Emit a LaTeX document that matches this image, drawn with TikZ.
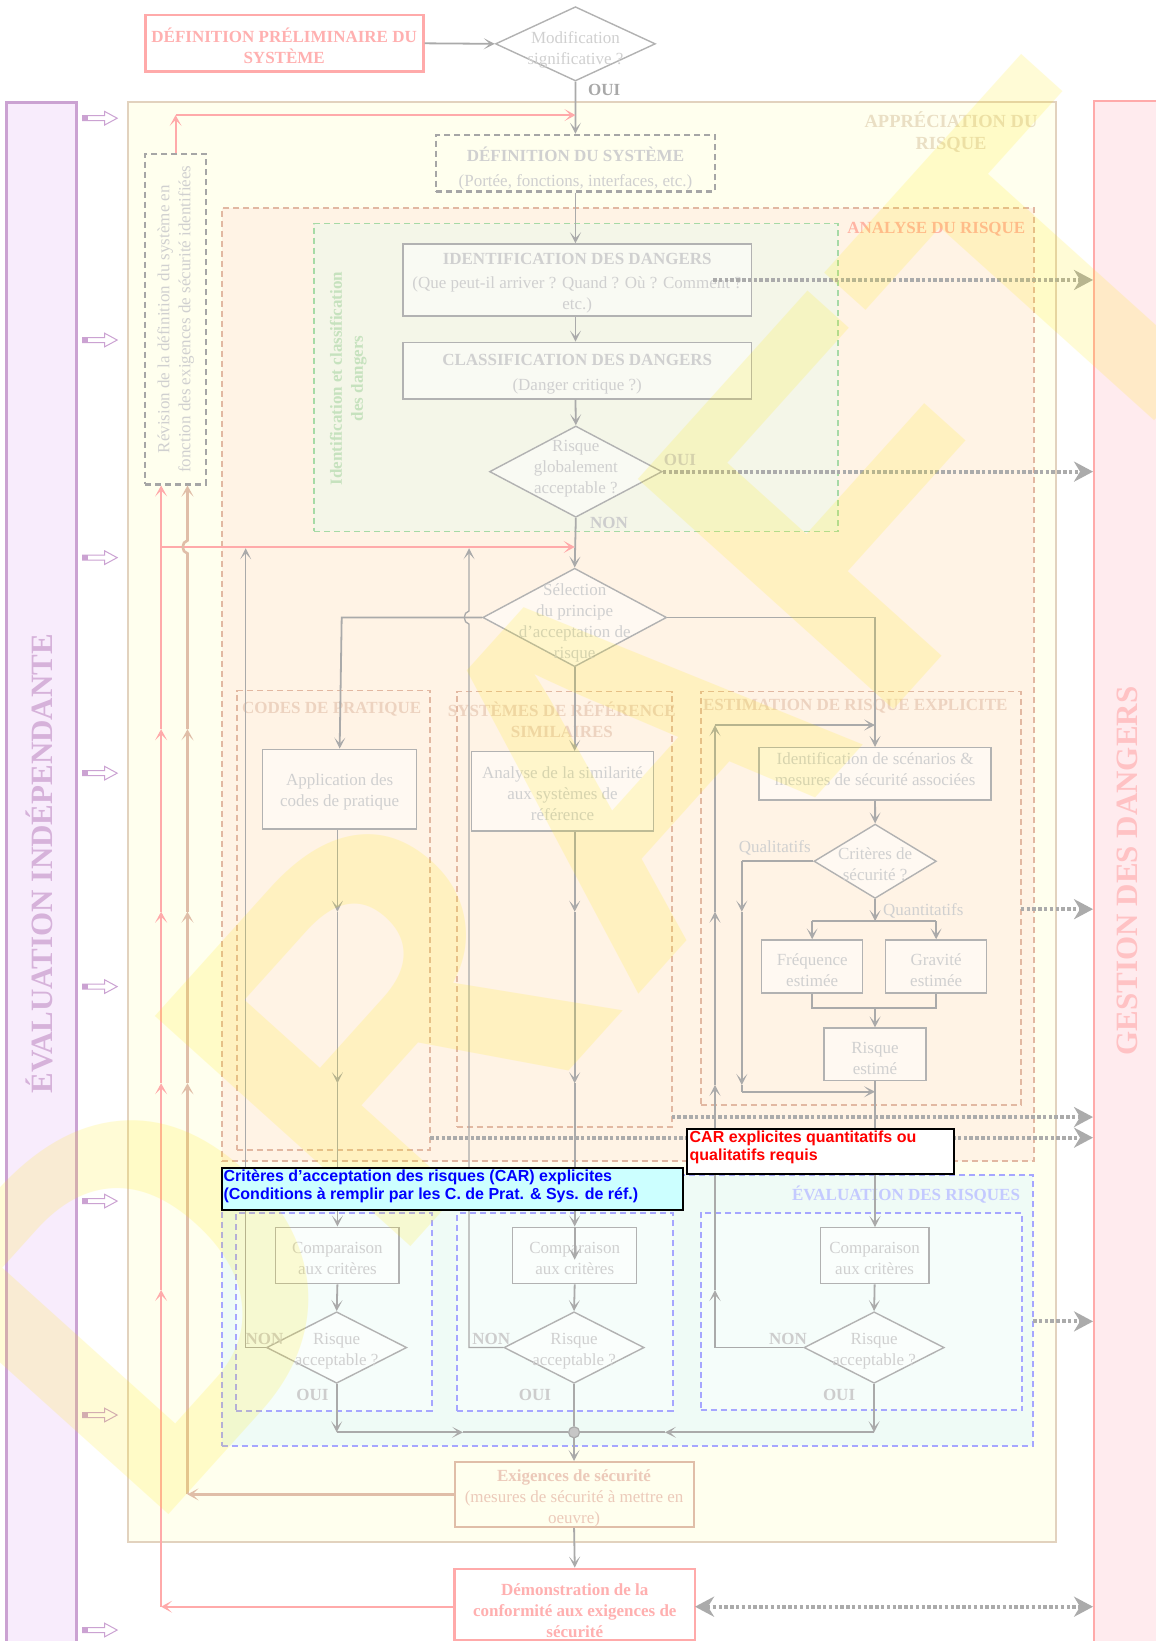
\documentclass[tikz,border=0pt]{standalone}
\usepackage{fontspec}
\setmainfont{Liberation Serif}
\newfontfamily\arialfont{Liberation Sans}
\usetikzlibrary{arrows.meta,fit,shapes.geometric,calc}

\definecolor{lgray}{HTML}{AAAAAA}
\definecolor{tipfill}{HTML}{C6C6C6}
\definecolor{dgray}{HTML}{ABABAB}
\definecolor{boxgray}{HTML}{B2B2B2}
\definecolor{tgray}{HTML}{D0D0D0}
\definecolor{lblgray}{HTML}{CDCDCD}
\definecolor{ouigray}{HTML}{A8A8A8}
\definecolor{dashgray}{HTML}{A6A6A6}
\definecolor{pinkc}{HTML}{FFAAAA}
\definecolor{pinktext}{HTML}{FFB0B0}
\definecolor{tanl}{HTML}{E0BEA8}
\definecolor{tandash}{HTML}{E2B8A2}
\definecolor{tantitle}{HTML}{EDD3C0}
\definecolor{apprfill}{HTML}{FFFFEE}
\definecolor{apprline}{HTML}{E2D2BE}
\definecolor{apprtitle}{HTML}{EADFC4}
\definecolor{anafill}{HTML}{FFF3E5}
\definecolor{anatitle}{HTML}{FFB4A4}
\definecolor{greenfill}{HTML}{F4F6E8}
\definecolor{greendash}{HTML}{A6DAA6}
\definecolor{greentext}{HTML}{C6E2BE}
\definecolor{mintfill}{HTML}{EFFBF6}
\definecolor{bluedash}{HTML}{A6A6FF}
\definecolor{bluetitle}{HTML}{C4CAFF}
\definecolor{purpfill}{HTML}{F8ECFC}
\definecolor{purpline}{HTML}{CBA2D2}
\definecolor{purptext}{HTML}{D6B2DA}
\definecolor{gestfill}{HTML}{FFEBEE}
\definecolor{gesttext}{HTML}{FFC2C4}
\definecolor{exigtext}{HTML}{ECCABA}
\definecolor{calcyan}{HTML}{CCFFFF}
\definecolor{wmyellow}{HTML}{FFEA00}

\newcommand\fsBody{\fontsize{17}{21}\selectfont}
\newcommand\fsHead{\fontsize{17}{21}\selectfont\bfseries}
\newcommand\fsApp{\fontsize{18.5}{22}\selectfont\bfseries}
\newcommand\fsBig{\fontsize{31}{36}\selectfont\bfseries}
\newcommand\fsCall{\arialfont\bfseries\fontsize{16}{18}\selectfont}
\newcommand\fsMark{\arialfont\bfseries\fontsize{500}{500}\selectfont}

\tikzset{
  gline/.style={draw=lgray, line width=1.8pt},
  thinline/.style={draw=lgray, line width=1.3pt},
  gtip/.style={-{Stealth[length=11pt,width=11pt,inset=6pt,fill=tipfill]}},
  garrow/.style={gline, gtip},
  tharrow/.style={thinline, gtip},
  pinkline/.style={draw=pinkc, line width=2.2pt},
  pinkarrow/.style={pinkline, -{Stealth[length=11pt,width=12pt,inset=6pt,fill=pinkc!60]}},
  tanline/.style={draw=tanl, line width=2.6pt},
  tanarrow/.style={tanline, -{Stealth[length=11pt,width=12pt,inset=6pt,fill=tanl!60]}},
  dotline/.style={draw=dgray, line width=4.2pt, dash pattern=on 3.5pt off 2.3pt},
  dotarr/.style={dotline, -{Stealth[length=19pt,width=20pt,inset=6pt]}},
  dashbd/.style={dash pattern=on 6pt off 4pt},
  solidbox/.style={draw=boxgray, line width=1.4pt, fill=white, fill opacity=0.5, inner sep=0pt},
  dmd/.style={diamond, draw=boxgray, line width=1.4pt, fill=white, fill opacity=0.5, inner sep=0pt},
  btext/.style={align=center, text=tgray, font=\fsBody, inner sep=0pt},
  lbl/.style={text=lblgray, font=\fsHead, inner sep=0pt},
  sectbox/.style={draw=tandash, line width=1.8pt, dashbd, inner sep=0pt},
  sectitle/.style={text=tantitle, font=\fsHead, align=center, inner sep=0pt},
  evalbox/.style={draw=bluedash, line width=2pt, dashbd, fill=mintfill, inner sep=0pt},
  minibar/.style={draw=purpline, line width=1pt, fill=white},
}

\begin{document}
\begin{tikzpicture}[x=1.0462pt, y=-1.0462pt]
\useasboundingbox (0,0) rectangle (1104,1568.5);
\fill[white] (0,0) rectangle (1104,1568.5);

% side bands
\node[draw=purpline, line width=3pt, fill=purpfill, inner sep=0pt, fit={(6.4,98.2)(73.4,1590)}] (indep) {};
\node[rotate=90, text=purptext, font=\fsBig, inner sep=0pt] (indep-t) at (37.3,825.6) {ÉVALUATION INDÉPENDANTE};
\node[draw=pinkc, line width=2pt, fill=gestfill, inner sep=0pt, fit={(1045.7,96.2)(1130,1590)}] (gestion) {};
\node[rotate=90, text=gesttext, font=\fsBig, inner sep=0pt] (gestion-t) at (1078,832.5) {GESTION DES DANGERS};

% small hollow arrows along the independent assessment band
\foreach \yy in {113,325,533,739,943,1148,1352.5,1558}{
  \draw[minibar] (79,\yy-2.4) -- (100,\yy-2.4) -- (100,\yy-6.5) -- (112,\yy) -- (100,\yy+6.5) -- (100,\yy+2.4) -- (79,\yy+2.4) -- cycle;
  \fill[purpline] (79,\yy-2.4) rectangle (84,\yy+2.4);
}

% risk appreciation frame
\node[draw=apprline, line width=2pt, fill=apprfill, inner sep=0pt, fit={(122.4,97.2)(1009.4,1473.9)}] (appr) {};
\node[text=apprtitle, font=\fsApp, align=center, inner sep=0pt] (appr-t) at (909,126) {APPRÉCIATION DU\\RISQUE};

% risk analysis frame
\node[draw=tandash, line width=2pt, dashbd, fill=anafill, inner sep=0pt, fit={(212.6,198.6)(988.5,1110)}] (analyse) {};
\node[sectitle, text=anatitle] (analyse-t) at (895,219) {ANALYSE DU RISQUE};

% hazard identification and classification frame
\node[draw=greendash, line width=1.8pt, dashbd, fill=greenfill, inner sep=0pt, fit={(299.9,213.7)(800.8,508)}] (idclass) {};
\node[rotate=90, text=greentext, font=\fsHead, align=center, inner sep=0pt] (idclass-t) at (332.8,361.7) {Identification et classification\\des dangers};

% risk evaluation frame
\node[evalbox, fit={(212.4,1123)(987.4,1382)}] (evalr) {};
\node[text=bluetitle, font=\fsHead, inner sep=0pt] (evalr-t) at (866,1142) {ÉVALUATION DES RISQUES};
\node[evalbox, fill=mintfill!60!white, fit={(225.6,1159.6)(412.6,1348.4)}] (ev1) {};
\node[evalbox, fill=mintfill!60!white, fit={(437,1159.6)(643,1348.4)}] (ev2) {};
\node[evalbox, fill=mintfill!60!white, fit={(669.7,1159)(977,1348)}] (ev3) {};

% acceptance principle frames
\node[sectbox, fit={(226.2,660)(411,1099)}] (codes) {};
\node[sectitle] (codes-t) at (317,677.7) {CODES DE PRATIQUE};
\node[sectbox, fit={(436.5,661)(642,1077)}] (sysref) {};
\node[sectitle] (sysref-t) at (537,688) {SYSTÈMES DE RÉFÉRENCE\\SIMILAIRES};
\node[sectbox, fit={(669.7,661)(975.6,1056)}] (estim) {};
\node[sectitle] (estim-t) at (817.5,675) {ESTIMATION DE RISQUE EXPLICITE};

% top boxes
\node[draw=pinkc, line width=2.8pt, fill=white, inner sep=0pt, fit={(138.7,14.3)(404.5,68.5)}] (prelim) {};
\node[text=pinktext, font=\fsHead, align=center, inner sep=0pt, yshift=-2.8pt] (prelim-t) at (prelim.center) {DÉFINITION PRÉLIMINAIRE DU\\SYSTÈME};
\node[dmd, minimum width=159.9pt, minimum height=74.3pt] (mod) at (550,41.9) {};
\node[btext, yshift=-6pt] (mod-t) at (mod.center) {Modification\\significative ?};

\node[draw=dashgray, line width=2.2pt, dashbd, fill=apprfill, inner sep=0pt, fit={(138.7,147.2)(197,463)}] (rev) {};
\node[rotate=90, btext] (rev-t) at (rev.center) {Révision de la définition du système en\\fonction des exigences de sécurité identifiées};

\node[draw=dashgray, line width=2.4pt, dashbd, fill=apprfill, inner sep=0pt, fit={(416.8,129)(683.3,183.2)}] (defsys) {};
\node[btext, yshift=-5pt] (defsys-t) at (defsys.center) {{\bfseries DÉFINITION DU SYSTÈME}\\[4pt](Portée, fonctions, interfaces, etc.)};

\node[solidbox, fit={(385.1,233.2)(718.3,302)}] (ident) {};
\node[btext, yshift=-3.5pt] (ident-t) at (ident.center) {{\bfseries IDENTIFICATION DES DANGERS}\\[3pt](Que peut-il arriver ? Quand ? Où ? Comment ?\\etc.)};
\node[solidbox, fit={(385.1,327.2)(718.3,381.4)}] (class) {};
\node[btext, yshift=-3.7pt] (class-t) at (class.center) {{\bfseries CLASSIFICATION DES DANGERS}\\[4pt](Danger critique ?)};
\node[dmd, minimum width=172.6pt, minimum height=91.3pt] (rga) at (550.4,450.8) {};
\node[btext, yshift=2.6pt] (rga-t) at (rga.center) {Risque\\globalement\\acceptable ?};

\node[dmd, minimum width=183.9pt, minimum height=98.5pt] (sel) at (549.3,590.2) {};
\node[btext, yshift=-5.9pt] (sel-t) at (sel.center) {Sélection\\du principe\\d’acceptation de\\risque};

% the three approaches
\node[solidbox, fit={(251,716.2)(398.3,792.4)}] (app) {};
\node[btext, yshift=-3pt] (app-t) at (app.center) {Application des\\codes de pratique};
\node[solidbox, fit={(450.8,718.5)(624.5,794.3)}] (ana) {};
\node[btext, yshift=-2.7pt] (ana-t) at (ana.center) {Analyse de la similarité\\aux systèmes de\\référence};
\node[solidbox, fit={(725.5,714.6)(947.3,764.7)}] (scen) {};
\node[btext, yshift=5.2pt] (scen-t) at (scen.center) {Identification de scénarios \&\\mesures de sécurité associées};
\node[dmd, minimum width=122.4pt, minimum height=74.3pt] (crit) at (836.5,823.2) {};
\node[btext, yshift=-3.1pt] (crit-t) at (crit.center) {Critères de\\sécurité ?};
\node[solidbox, fit={(728,898.5)(824.6,949)}] (freq) {};
\node[btext, yshift=-4pt] (freq-t) at (freq.center) {Fréquence\\estimée};
\node[solidbox, fit={(846.6,898.5)(943,949)}] (grav) {};
\node[btext, yshift=-4pt] (grav-t) at (grav.center) {Gravité\\estimée};
\node[solidbox, fit={(787.7,982.7)(885,1033)}] (rest) {};
\node[btext, yshift=-4pt] (rest-t) at (rest.center) {Risque\\estimé};

% comparisons and decisions
\node[solidbox, fit={(263.5,1173)(381.5,1227)}] (comp1) {};
\node[solidbox, fit={(490,1173)(608.6,1227)}] (comp2) {};
\node[solidbox, fit={(784,1173.5)(888,1227)}] (comp3) {};
\foreach \nm in {comp1,comp2,comp3}{
  \node[btext, yshift=-3.1pt] (\nm-t) at (\nm.center) {Comparaison\\aux critères};
}
\foreach \nm/\cx in {d1/321.8, d2/548.7, d3/835.5}{
  \node[dmd, minimum width=140.2pt, minimum height=71.5pt] (\nm) at (\cx,1288) {};
  \node[btext, yshift=-3.5pt] (\nm-t) at (\nm.center) {Risque\\acceptable ?};
}

% requirements and demonstration
\node[draw=tanl, line width=2pt, fill=apprfill, inner sep=0pt, fit={(434.5,1397.4)(662.9,1459.3)}] (exig) {};
\node[btext, text=exigtext, yshift=-4.4pt] (exig-t) at (exig.center) {{\bfseries Exigences de sécurité}\\(mesures de sécurité à mettre en\\oeuvre)};
\node[draw=pinkc, line width=2.8pt, fill=white, inner sep=0pt, fit={(434.5,1499.7)(664.3,1568)}] (dem) {};
\node[text=pinktext, font=\fsHead, align=center, inner sep=0pt, yshift=-5.7pt] (dem-t) at (dem.center) {Démonstration de la\\conformité aux exigences de\\sécurité};

% ---------- connectors ----------
\draw[garrow] (prelim.east) -- (mod.west);
\draw[garrow] (mod.south) -- (defsys.north);
\node[lbl, text=ouigray, anchor=west] (oui0) at (562,86) {OUI};

\coordinate (ptop) at (167.85,110);
\draw[pinkarrow] (rev.north) -- (ptop);
\draw[pinkarrow] (ptop) -- (ptop -| mod.south);

\draw[garrow] (defsys.south) -- (defsys.south |- ident.north);
\draw[garrow] (ident.south -| defsys.south) -- (defsys.south |- class.north);
\draw[garrow] (class.south -| defsys.south) -- (rga.north);
\coordinate (dA) at (681.5,267.6);
\draw[dotarr] (dA) -- (dA -| gestion.west);
\draw[dotarr] (rga.east) -- (rga.east -| gestion.west);
\node[lbl] (oui1) at (650,440) {OUI};
\node[lbl] (non1) at (582,500) {NON};
\draw[garrow] (rga.south) -- (sel.north);

\coordinate (pjoin) at (154,522.8);
\draw[pinkarrow] (pjoin) -- (pjoin -| sel.north);

\coordinate (sl) at (326.6,590.2);
\coordinate (sr) at (836.4,590.2);
\draw[garrow] (sel.west) -- (sl) -- (app.north);
\draw[garrow] (sel.east) -- (sr) -- (scen.north);
\draw[garrow] (sel.south) -- (sel.south |- ana.north);

% column 1 and 2 flows
\coordinate (c1a) at (322.5,871.4);
\coordinate (c1b) at (322.5,1035.4);
\draw[garrow] (app.south -| comp1.north) -- (c1a);
\draw[garrow] (c1a) -- (c1b);
\draw[garrow] (c1b) -- (comp1.north);
\coordinate (c2a) at (549.3,871.4);
\coordinate (c2b) at (549.3,1035.4);
\coordinate (c2c) at (549.3,1204);
\draw[garrow] (ana.south -| comp2.north) -- (c2a);
\draw[garrow] (c2a) -- (c2b);
\draw[garrow] (c2b) -- (comp2.north);
\draw[garrow] (comp2.north) -- (c2c);

% explicit estimation
\draw[garrow] (scen.south) -- (crit.north);
\coordinate (ql) at (709,823.2);
\coordinate (qla) at (709,871.4);
\coordinate (qlb) at (709,1037);
\coordinate (qlc) at (709,1043.5);
\draw[gline] (crit.west) -- (ql);
\draw[garrow] (ql) -- (qla);
\draw[garrow] (qla) -- (qlb);
\draw[gline] (qlb) -- (qlc);
\draw[garrow] (qlc) -- (qlc -| rest.south);
\node[btext, anchor=east] (qual-t) at (775,810.7) {Qualitatifs};
\coordinate (qt) at (836.5,880.4);
\draw[garrow] (crit.south) -- (qt);
\draw[gline] (qt -| freq.north) -- (qt -| grav.north);
\draw[garrow] (qt -| freq.north) -- (freq.north);
\draw[garrow] (qt -| grav.north) -- (grav.north);
\node[btext, anchor=west] (quant-t) at (844,870.5) {Quantitatifs};
\coordinate (fg) at (836.4,963.6);
\draw[gline] (freq.south) -- (freq.south |- fg) -- (grav.south |- fg) -- (grav.south);
\draw[garrow] (fg) -- (rest.north);
\draw[garrow] (rest.south) -- (rest.south |- comp3.north);

% dotted links to hazard management
\coordinate (dB) at (975.6,869);
\coordinate (dC) at (642,1067.7);
\coordinate (dD) at (411,1087.4);
\coordinate (dE) at (987.4,1263);
\draw[dotarr] (dB) -- (dB -| gestion.west);
\draw[dotarr] (dC) -- (dC -| gestion.west);
\draw[dotarr] (dD) -- (dD -| gestion.west);
\draw[dotarr] (dE) -- (dE -| gestion.west);

% comparisons to decisions
\draw[garrow] (comp1.south) -- (d1.north);
\draw[garrow] (comp2.south) -- (d2.north);
\draw[garrow] (comp3.south) -- (d3.north);

% NON branches
\coordinate (n1) at (234.8,1288);
\coordinate (n1t) at (234.8,524);
\draw[tharrow] (d1.west) -- (n1) -- (n1t);
\coordinate (n2) at (448.3,1288);
\coordinate (n2t) at (448.3,524);
\draw[tharrow] (d2.west) -- (n2) -- (448.3,596.5) .. controls (442.3,595.5) and (442.3,585) .. (448.3,584) -- (n2t);
\coordinate (r3) at (683.4,1288);
\coordinate (r3a) at (683.4,1233);
\coordinate (r3b) at (683.4,1037);
\coordinate (r3c) at (683.4,871.4);
\coordinate (r3d) at (683.4,693);
\draw[gline] (d3.west) -- (r3);
\draw[garrow] (r3) -- (r3a);
\draw[garrow] (r3a) -- (r3b);
\draw[garrow] (r3b) -- (r3c);
\draw[garrow] (r3c) -- (r3d);
\draw[garrow] (r3d) -- (r3d -| scen.north);
\foreach \nm/\x in {non2/252.8, non3/469.5, non4/753.2}{\node[lbl] (\nm) at (\x,1280) {NON};}
\foreach \nm/\x in {oui2/298.7, oui3/511.4, oui4/802}{\node[lbl] (\nm) at (\x,1333.5) {OUI};}

% OUI branches merge
\node[circle, draw=lgray, fill=tipfill, line width=1.2pt, minimum size=11pt, inner sep=0pt] (junc) at (548.7,1369) {};
\coordinate (o1) at (321.8,1369);
\coordinate (o1m) at (442.6,1369);
\coordinate (o3) at (835.5,1369);
\coordinate (o3m) at (635.6,1369);
\draw[garrow] (d1.south) -- (o1);
\draw[garrow] (o1) -- (o1m);
\draw[gline] (o1m) -- (junc);
\draw[garrow] (d3.south) -- (o3);
\draw[garrow] (o3) -- (o3m);
\draw[gline] (o3m) -- (junc);
\draw[gline] (d2.south) -- (junc);
\draw[garrow] (junc) -- (exig.north);
\draw[garrow] (exig.south) -- (dem.north);

% requirements feed back to system revision
\coordinate (tb) at (179.2,1428.35);
\coordinate (ta) at (179.2,1035.4);
\coordinate (tbb) at (179.2,871.4);
\coordinate (tc) at (179.2,697);
\draw[tanarrow] (exig.west) -- (tb);
\draw[tanarrow] (tb) -- (ta);
\draw[tanarrow] (ta) -- (tbb);
\draw[tanarrow] (tbb) -- (tc);
\draw[tanarrow] (tc) -- (179.2,529) .. controls (173.2,528) and (173.2,517.6) .. (179.2,516.6) -- (rev.south -| tb);

% demonstration feed back
\coordinate (pb) at (154,1535.7);
\coordinate (pa) at (154,1233);
\coordinate (pbb) at (154,1035.4);
\coordinate (pc) at (154,871.4);
\coordinate (pd) at (154,697);
\coordinate (dw) at (434.5,1535.7);
\draw[pinkarrow] (dw) -- (pb);
\draw[pinkarrow] (pb) -- (pa);
\draw[pinkarrow] (pa) -- (pbb);
\draw[pinkarrow] (pbb) -- (pc);
\draw[pinkarrow] (pc) -- (pd);
\draw[pinkline] (pd) -- (pjoin);
\draw[pinkarrow] (pjoin) -- (rev.south -| pjoin);

\coordinate (de) at (664.3,1535.7);
\draw[dotline, {Stealth[length=19pt,width=20pt,inset=6pt]}-{Stealth[length=19pt,width=20pt,inset=6pt]}] (de) -- (de -| gestion.west);

% watermark
\node[rotate=48, text=wmyellow, text opacity=0.16, font=\fsMark, inner sep=0pt] (wm) at (560,760) {DRAFT};

% callouts
\node[draw=black, line width=2pt, fill=white, inner sep=0pt, fit={(656.8,1078.8)(912,1122)}] (carq) {};
\node[anchor=north west, text=red, font=\fsCall, align=left, inner sep=0pt] (carq-t) at (659,1080.5) {CAR explicites quantitatifs ou\\qualitatifs requis};
\node[draw=black, line width=2pt, fill=calcyan, inner sep=0pt, fit={(212,1116.6)(652.5,1157)}] (carc) {};
\node[anchor=north west, text=blue, font=\fsCall, align=left, inner sep=0pt] (carc-t) at (213.5,1118) {Critères d’acceptation des risques (CAR) explicites\\(Conditions à remplir par les C. de Prat. \& Sys. de réf.)};
\end{tikzpicture}
\end{document}
